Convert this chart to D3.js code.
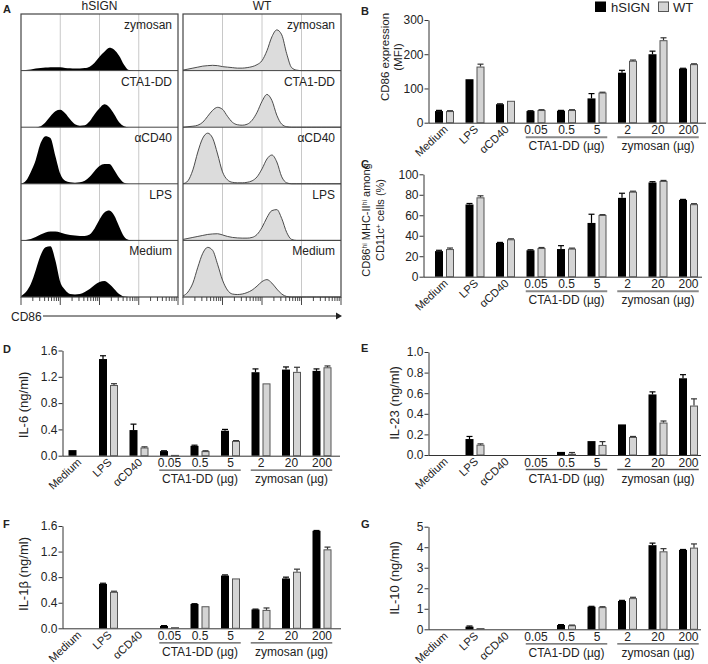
<!DOCTYPE html>
<html><head><meta charset="utf-8">
<script src="https://cdn.jsdelivr.net/npm/d3@7"></script>
<style>
body{margin:0;background:#fff}
svg{display:block}
text{font-family:"Liberation Sans",Arial,sans-serif;fill:#222}
</style>
</head><body>
<svg id="c" width="708" height="664"></svg>
<script>
// ---------------- DATA ----------------
// Panel A: CD86 histograms (log10 decade position of each bin, 0..4) and event counts per bin
const histLogBins = [0,0.125,0.25,0.375,0.5,0.625,0.75,0.875,1,1.125,1.25,1.375,1.5,1.625,1.75,1.875,2,2.125,2.25,2.375,2.5,2.625,2.75,2.875,3,3.125,3.25,3.375,3.5,3.625,3.75,3.875,4];
const histStimuli = ["zymosan","CTA1-DD","αCD40","LPS","Medium"];
const hsignZymosan = [0,0.5,1,2,2.5,3,3.3,3.5,3.3,2.7,2.3,2,2,2.5,4,8,14,19,23,21,15,6,0.5,0,0,0,0,0,0,0,0,0,0];
const hsignCTA1DD  = [0,0,0,0,1,5,11,16,17.5,14,8,3,1.5,2,6,13,19,23,20,13,5,1,0,0,0,0,0,0,0,0,0,0,0];
const hsignCD40    = [0,3,12,24,41,48,46,28,10,3,1.5,1,1.5,3,7,13,18,20,20,14,6,1,0,0,0,0,0,0,0,0,0,0,0];
const hsignLPS     = [0,0.5,1.5,3.5,6,8,9,9,8,6.5,5.5,5,4.5,4.5,6,12,21,28,30,25,14,4,0.5,0,0,0,0,0,0,0,0,0,0];
const hsignMedium  = [1,5,13,27,42,50,51,37,15,7,3,2.5,3,5,8,12,15,16,13,8,3,0.5,0,0,0,0,0,0,0,0,0,0,0];
const wtZymosan    = [0.5,1.5,2.5,3.5,4.5,5,5.3,5,4,3.5,3,2.5,2.5,3,4,6,10,20,34,41,36,17,3,0.5,0,0,0,0,0,0,0,0,0];
const wtCTA1DD     = [0,0.5,1,2,5,11,17,20,18,11,5,2.5,2,3,7,15,26,33,27,12,3,0.5,0,0,0,0,0,0,0,0,0,0,0];
const wtCD40       = [0,3,14,32,46,51,46,30,12,4,1.5,1,1,1.5,3,7,15,25,29,22,7,1,0,0,0,0,0,0,0,0,0,0,0];
const wtLPS        = [1,2,3,4,5,6,6.5,6.7,5.5,4,3,2.5,2.3,2.3,3,6,13,23,30,31,22,8,1,0,0,0,0,0,0,0,0,0,0];
const wtMedium     = [1,5,14,30,44,50,47,33,17,7,3,2.5,3,4.5,7,11,15.5,17.5,14,8,3,0.5,0,0,0,0,0,0,0,0,0,0,0];

// Panels B-G: categories
const groups = ["Medium","LPS","αCD40","0.05","0.5","5","2","20","200"];
const rotatedGroups = ["Medium","LPS","αCD40"];
const doseGroupLabels = ["CTA1-DD (µg)","zymosan (µg)"];
const doseGroupMembers = [["0.05","0.5","5"],["2","20","200"]];
const seriesNames = ["hSIGN","WT"];

// B: CD86 MFI
const cd86Hsign    = [34,127,54,34,35,71,146,200,158];
const cd86HsignErr = [2,0,1,1,1,14,7,9,1];
const cd86Wt       = [34,164,64,37,37,88,181,241,171];
const cd86WtErr    = [1,7,0,1,1,1,2,7,1];
const cd86Ticks    = [0,100,200,300];
// C: % CD86hi MHC-IIhi
const pctHsign     = [25,70.5,33,25.8,27,52.5,77,92,75];
const pctHsignErr  = [0.8,1,0.5,0.5,3.3,8.5,4.5,0.8,0.5];
const pctWt        = [27,77.5,36.5,28,27.4,60.3,83,93.5,70.8];
const pctWtErr     = [1,1.5,0.5,0.5,0.5,0.3,0.5,0.5,0.5];
const pctTicks     = [0,20,40,60,80,100];
// D: IL-6
const il6Hsign     = [0.085,1.47,0.39,0.07,0.15,0.38,1.27,1.31,1.29];
const il6HsignErr  = [0,0.05,0.09,0.005,0.01,0.02,0.05,0.04,0.03];
const il6Wt        = [0,1.075,0.125,0.008,0.07,0.225,1.1,1.275,1.345];
const il6WtErr     = [0,0.02,0.01,0,0.005,0.005,0,0.07,0.02];
const il6Ticks     = [0,0.4,0.8,1.2,1.6];
// E: IL-23
const il23Hsign    = [0,0.155,0,0,0.03,0.135,0.297,0.588,0.745];
const il23HsignErr = [0,0.025,0,0,0,0,0,0.025,0.035];
const il23Wt       = [0,0.1,0,0,0.012,0.098,0.175,0.315,0.48];
const il23WtErr    = [0,0.008,0,0,0.012,0.032,0.005,0.015,0.065];
const il23Ticks    = [0,0.2,0.4,0.6,0.8,1.0];
// F: IL-1beta
const il1bHsign    = [0,0.695,0,0.037,0.38,0.825,0.295,0.78,1.525];
const il1bHsignErr = [0,0.01,0,0.005,0.005,0.01,0.005,0.02,0.005];
const il1bWt       = [0,0.57,0,0.018,0.345,0.78,0.288,0.885,1.235];
const il1bWtErr    = [0,0.01,0,0,0,0,0.03,0.04,0.035];
const il1bTicks    = [0,0.4,0.8,1.2,1.6];
// G: IL-10
const il10Hsign    = [0,0.13,0,0,0.21,1.1,1.38,4.1,3.87];
const il10HsignErr = [0,0.03,0,0,0.02,0.02,0.03,0.1,0.02];
const il10Wt       = [0,0.06,0,0,0.195,1.08,1.52,3.8,3.98];
const il10WtErr    = [0,0,0,0,0.01,0.02,0.04,0.13,0.18];
const il10Ticks    = [0,1,2,3,4,5];

// ---------------- DRAW ----------------
const svg = d3.select("#c");
const FONT = '"Liberation Sans",Arial,sans-serif';

function panelLetter(l, x, y){
  svg.append("text").attr("x",x).attr("y",y).attr("font-size",11).attr("font-weight","bold").attr("fill","#000").text(l);
}

// ----- Panel A -----
(function(){
  const top = 14, bottom = 297, nRows = 5;
  const rowH = (bottom-top)/nRows;
  const cols = [
    {name:"hSIGN", x0:21, x1:178, curves:[hsignZymosan,hsignCTA1DD,hsignCD40,hsignLPS,hsignMedium], fill:"#000", stroke:"none"},
    {name:"WT", x0:183, x1:341, curves:[wtZymosan,wtCTA1DD,wtCD40,wtLPS,wtMedium], fill:"#dcdcdc", stroke:"#3a3a3a"}
  ];
  cols.forEach(col=>{
    const g = svg.append("g");
    const x = d3.scaleLog().domain([1,1e4]).range([col.x0,col.x1]);
    [10,100,1000].forEach(v=>{
      g.append("line").attr("x1",x(v)).attr("x2",x(v)).attr("y1",top).attr("y2",bottom)
        .attr("stroke","#c8c8c8").attr("stroke-width",1);
    });
    col.curves.forEach((vals,i)=>{
      const r0 = top + i*rowH, r1 = top + (i+1)*rowH;
      const y = d3.scaleLinear().domain([0,57]).range([r1,r0]);
      const pts = histLogBins.map((d,k)=>[Math.pow(10,d), vals[k]]);
      const area = d3.area().x(p=>x(p[0])).y0(r1).y1(p=>y(p[1])).curve(d3.curveMonotoneX);
      g.append("path").attr("d",area(pts)).attr("fill",col.fill);
      if(col.stroke!=="none"){
        const line = d3.line().x(p=>x(p[0])).y(p=>y(p[1])).curve(d3.curveMonotoneX);
        g.append("path").attr("d",line(pts)).attr("fill","none").attr("stroke",col.stroke).attr("stroke-width",0.9);
      }
      g.append("text").attr("x",col.x1-6).attr("y",r0+15).attr("text-anchor","end")
        .attr("font-size",12).attr("fill","#333").text(histStimuli[i]);
      if(i>0){
        g.append("line").attr("x1",col.x0).attr("x2",col.x1).attr("y1",r0).attr("y2",r0)
          .attr("stroke","#444").attr("stroke-width",1);
      }
    });
    g.append("rect").attr("x",col.x0).attr("y",top).attr("width",col.x1-col.x0).attr("height",bottom-top)
      .attr("fill","none").attr("stroke","#444").attr("stroke-width",1.2);
    x.ticks().forEach(v=>{
      const major = Math.abs(Math.log10(v)-Math.round(Math.log10(v)))<1e-9;
      g.append("line").attr("x1",x(v)).attr("x2",x(v)).attr("y1",bottom).attr("y2",bottom+(major?8:4))
        .attr("stroke","#333").attr("stroke-width",0.9);
    });
    g.append("text").attr("x",(col.x0+col.x1)/2).attr("y",10).attr("text-anchor","middle")
      .attr("font-size",12).attr("fill","#222").text(col.name);
  });
  svg.append("text").attr("x",11).attr("y",320.5).attr("font-size",12).text("CD86");
  svg.append("line").attr("x1",43).attr("x2",336).attr("y1",316).attr("y2",316).attr("stroke","#222").attr("stroke-width",1);
  svg.append("path").attr("d","M336,312.5 L342,316 L336,319.5 Z").attr("fill","#222");
})();
panelLetter("A",3,13);

// ----- Bar panels -----
function barPanel(o){
  const g = svg.append("g");
  const y = d3.scaleLinear().domain(o.domain).range([o.axisY,o.yTop]);
  const x = d3.scaleBand().domain(groups).range(o.band);
  const sub = d3.scaleBand().domain(seriesNames).range([-9.5,9.5]).paddingInner(0.273);
  const ya = d3.axisLeft(y).tickValues(o.ticks).tickSize(4).tickSizeOuter(0).tickFormat(o.fmt);
  const ag = g.append("g").attr("transform",`translate(${o.axisX},0)`).call(ya);
  ag.select(".domain").attr("stroke","#333");
  ag.selectAll(".tick line").attr("stroke","#333");
  ag.selectAll(".tick text").attr("font-size",12).attr("font-family",FONT).attr("fill","#222").attr("x",-5);
  g.append("line").attr("x1",o.axisX).attr("x2",o.axisEnd).attr("y1",o.axisY+0.5).attr("y2",o.axisY+0.5)
    .attr("stroke","#333").attr("stroke-width",1);
  const series = [
    {name:"hSIGN", vals:o.hs, errs:o.hsErr, fill:"#000", stroke:"none", err:"#000"},
    {name:"WT", vals:o.wt, errs:o.wtErr, fill:"#d4d4d4", stroke:"#555", err:"#333"}
  ];
  series.forEach(s=>{
    groups.forEach((gname,i)=>{
      const v = s.vals[i];
      if(!(v>0)) return;
      const cx = x(gname)+x.bandwidth()/2;
      const bx = cx + sub(s.name);
      const bw = sub.bandwidth();
      const yt = y(v);
      const h = Math.max(o.axisY - yt, 0.8);
      if(s.stroke==="none"){
        g.append("rect").attr("x",bx).attr("y",o.axisY-h).attr("width",bw).attr("height",h).attr("fill",s.fill);
      } else {
        g.append("rect").attr("x",bx+0.5).attr("y",o.axisY-h+0.5).attr("width",bw-1).attr("height",Math.max(h-0.5,0.5))
          .attr("fill",s.fill).attr("stroke",s.stroke).attr("stroke-width",1);
      }
      const e = s.errs[i];
      if(e>0){
        const ye = y(v+e);
        g.append("line").attr("x1",bx+bw/2).attr("x2",bx+bw/2).attr("y1",yt).attr("y2",ye).attr("stroke",s.err).attr("stroke-width",1.2);
        g.append("line").attr("x1",bx+bw/2-3).attr("x2",bx+bw/2+3).attr("y1",ye).attr("y2",ye).attr("stroke",s.err).attr("stroke-width",1.2);
      }
    });
  });
  groups.forEach(gname=>{
    const cx = x(gname)+x.bandwidth()/2;
    if(rotatedGroups.includes(gname)){
      g.append("text").attr("transform",`translate(${cx+4},${o.axisY+7.5}) rotate(-43)`)
        .attr("text-anchor","end").attr("font-size",11.2).text(gname);
    } else {
      g.append("text").attr("x",cx).attr("y",o.axisY+11.5).attr("text-anchor","middle").attr("font-size",12).text(gname);
    }
  });
  doseGroupLabels.forEach((lab,k)=>{
    const mem = doseGroupMembers[k];
    const xa = x(mem[0])+5, xb = x(mem[mem.length-1])+x.bandwidth()-5;
    g.append("line").attr("x1",xa).attr("x2",xb).attr("y1",o.axisY+14.5).attr("y2",o.axisY+14.5)
      .attr("stroke",o.groupLine).attr("stroke-width",o.groupLineW);
    g.append("text").attr("x",(xa+xb)/2).attr("y",o.axisY+27.5).attr("text-anchor","middle").attr("font-size",12).text(lab);
  });
  const yl = g.append("g").attr("transform",`translate(0,${o.labelY})`);
  o.ylabel.forEach((parts,li)=>{
    const t = yl.append("text").attr("transform",`translate(${o.labelX[li]},0) rotate(-90)`)
      .attr("text-anchor","middle").attr("font-size",o.labelSize);
    parts.forEach(p=>{
      const ts = t.append("tspan").text(p.t);
      if(p.sup){ ts.attr("baseline-shift","super").attr("font-size",o.labelSize*0.62); }
    });
  });
}

const fmt1 = d3.format(".1f"), fmt0 = d3.format("d");
const bandRight = [429.25,703.75], bandLeft = [62.75,337.25];

barPanel({hs:cd86Hsign,hsErr:cd86HsignErr,wt:cd86Wt,wtErr:cd86WtErr,domain:[0,300],ticks:cd86Ticks,fmt:fmt0,
  axisX:428.5,axisY:122.7,yTop:20,axisEnd:706,band:bandRight,groupLine:"#888",groupLineW:2,
  ylabel:[[{t:"CD86 expression"}],[{t:"(MFI)"}]],labelX:[389,402],labelY:57,labelSize:11.5});
barPanel({hs:pctHsign,hsErr:pctHsignErr,wt:pctWt,wtErr:pctWtErr,domain:[0,100],ticks:pctTicks,fmt:fmt0,
  axisX:423.5,axisY:276.7,yTop:174.3,axisEnd:702,band:bandRight,groupLine:"#888",groupLineW:2,
  ylabel:[[{t:"CD86"},{t:"hi",sup:true},{t:" MHC-II"},{t:"hi",sup:true},{t:" among"}],[{t:"CD11c"},{t:"+",sup:true},{t:" cells (%)"}]],
  labelX:[369.5,383.5],labelY:220,labelSize:11});
barPanel({hs:il6Hsign,hsErr:il6HsignErr,wt:il6Wt,wtErr:il6WtErr,domain:[0,1.6],ticks:il6Ticks,fmt:fmt1,
  axisX:62.5,axisY:455.7,yTop:350.5,axisEnd:340,band:bandLeft,groupLine:"#555",groupLineW:1.3,
  ylabel:[[{t:"IL-6 (ng/ml)"}]],labelX:[27.5],labelY:405,labelSize:13});
barPanel({hs:il23Hsign,hsErr:il23HsignErr,wt:il23Wt,wtErr:il23WtErr,domain:[0,1.0],ticks:il23Ticks,fmt:fmt1,
  axisX:428.5,axisY:455,yTop:352,axisEnd:701,band:bandRight,groupLine:"#555",groupLineW:1.3,
  ylabel:[[{t:"IL-23 (ng/ml)"}]],labelX:[399],labelY:403,labelSize:13});
barPanel({hs:il1bHsign,hsErr:il1bHsignErr,wt:il1bWt,wtErr:il1bWtErr,domain:[0,1.6],ticks:il1bTicks,fmt:fmt1,
  axisX:62.5,axisY:628.3,yTop:526,axisEnd:341,band:bandLeft,groupLine:"#555",groupLineW:1.3,
  ylabel:[[{t:"IL-1β (ng/ml)"}]],labelX:[27.5],labelY:574,labelSize:13});
barPanel({hs:il10Hsign,hsErr:il10HsignErr,wt:il10Wt,wtErr:il10WtErr,domain:[0,5],ticks:il10Ticks,fmt:fmt0,
  axisX:428.5,axisY:629.3,yTop:526.7,axisEnd:701,band:bandRight,groupLine:"#555",groupLineW:1.3,
  ylabel:[[{t:"IL-10 (ng/ml)"}]],labelX:[399],labelY:578,labelSize:13});

panelLetter("B",361,15);
panelLetter("C",361,168);
panelLetter("D",3,353);
panelLetter("E",361,352);
panelLetter("F",3,528);
panelLetter("G",361,528);

const lg = svg.append("g");
lg.append("rect").attr("x",595).attr("y",1.5).attr("width",11).attr("height",10.5).attr("fill","#000");
lg.append("text").attr("x",611).attr("y",11.5).attr("font-size",13).text(seriesNames[0]);
lg.append("rect").attr("x",658.5).attr("y",2).attr("width",10).attr("height",9.5).attr("fill","#d4d4d4").attr("stroke","#555");
lg.append("text").attr("x",673).attr("y",11.5).attr("font-size",13).text(seriesNames[1]);
</script>
</body></html>
